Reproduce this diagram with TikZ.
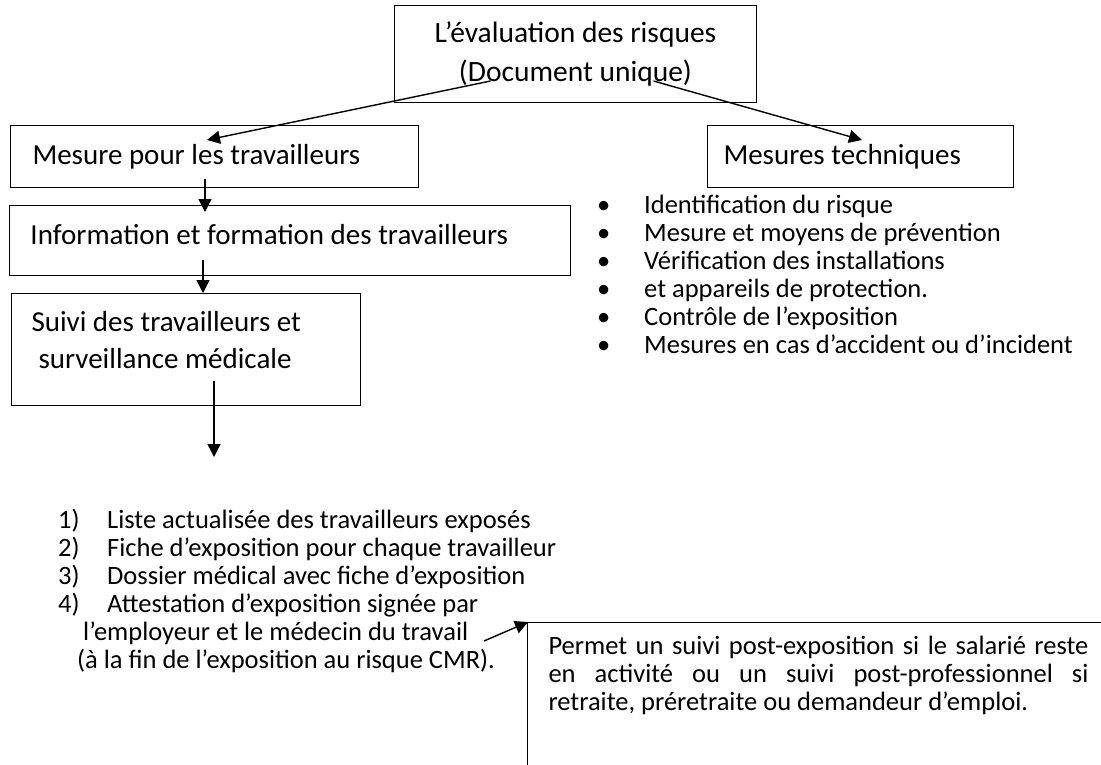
\documentclass[tikz,border=0pt]{standalone}
\usepackage{fontspec}
\setmainfont{Carlito}
\usetikzlibrary{arrows.meta, positioning}

\begin{document}
\begin{tikzpicture}[x=1pt, y=-1pt,
    box/.style={draw, line width=1pt, align=flush left, anchor=north west, inner ysep=0pt,
                font=\fontsize{29}{37}\selectfont},
    lst/.style={align=left, anchor=north west, inner sep=0pt, font=\fontsize{26.5}{28}\selectfont},
    arr/.style={-{Triangle[length=13pt, width=13pt]}, line width=1.4pt}
]
\useasboundingbox (0,0) rectangle (1101,764);

\node[box, minimum width=362, minimum height=97, align=center,
      font=\fontsize{29.5}{39}\selectfont] (eval) at (394,5) {L’évaluation des risques\\(Document unique)};
\node[box, text width=364, inner xsep=22, minimum height=62] (meas) at (10,125) {Mesure pour les travailleurs};
\node[box, text width=274, inner xsep=16, minimum height=62] (tech) at (707,125) {Mesures techniques};
\node[box, text width=519, inner xsep=21, minimum height=70, text depth=13pt] (info) at (9,205)
    {Information et formation des travailleurs};
\node[box, text width=309, inner xsep=20, minimum height=112, text depth=57pt] (suivi) at (11,293)
    {Suivi des travailleurs et\\\hspace*{7pt}surveillance médicale};

% liste des mesures techniques
\node[lst] (tlist) at (597,195) {%
    \makebox[47pt][l]{\textbullet}Identification du risque\\
    \makebox[47pt][l]{\textbullet}Mesure et moyens de prévention\\
    \makebox[47pt][l]{\textbullet}Vérification des installations\\
    \makebox[47pt][l]{\textbullet}et appareils de protection.\\
    \makebox[47pt][l]{\textbullet}Contrôle de l’exposition\\
    \makebox[47pt][l]{\textbullet}Mesures en cas d’accident ou d’incident};

% documents du suivi
\node[lst] (expo) at (58,509) {%
    \makebox[49pt][l]{1)}Liste actualisée des travailleurs exposés\\
    \makebox[49pt][l]{2)}Fiche d’exposition pour chaque travailleur\\
    \makebox[49pt][l]{3)}Dossier médical avec fiche d’exposition\\
    \makebox[49pt][l]{4)}Attestation d’exposition signée par\\
    \hspace*{25pt}l’employeur et le médecin du travail\\
    \hspace*{19pt}(à la fin de l’exposition au risque CMR).};

\node[box, draw=none, align=justify, text width=540, inner xsep=21, minimum height=142,
      text depth=96pt, font=\fontsize{26.5}{28}\selectfont] (post) at (527,622)
    {Permet un suivi post-exposition si le salarié reste\linebreak
     en activité ou un suivi post-professionnel si\linebreak
     retraite, préretraite ou demandeur d’emploi.};
\draw[line width=1pt] (post.north east) -- (post.north west) -- (post.south west);

\draw[arr] ([xshift=-85pt, yshift=22pt]eval.south) -- ([xshift=197pt, yshift=-15pt]meas.north west);
\draw[arr] ([xshift=78pt, yshift=22pt]eval.south) -- ([xshift=155pt, yshift=-15pt]tech.north west);
\draw[arr] ([xshift=195pt, yshift=9pt]meas.south west) -- ([xshift=196pt, yshift=-7pt]info.north west);
\draw[arr] ([xshift=194pt, yshift=16pt]info.south west) -- ([xshift=192pt]suivi.north west);
\draw[arr] ([xshift=203pt, yshift=25pt]suivi.south west) -- ([xshift=156pt, yshift=52pt]expo.north west);
\draw[arr] ([xshift=426pt, yshift=-132pt]expo.north west) -- ([xshift=1pt]post.north west);
\end{tikzpicture}
\end{document}
